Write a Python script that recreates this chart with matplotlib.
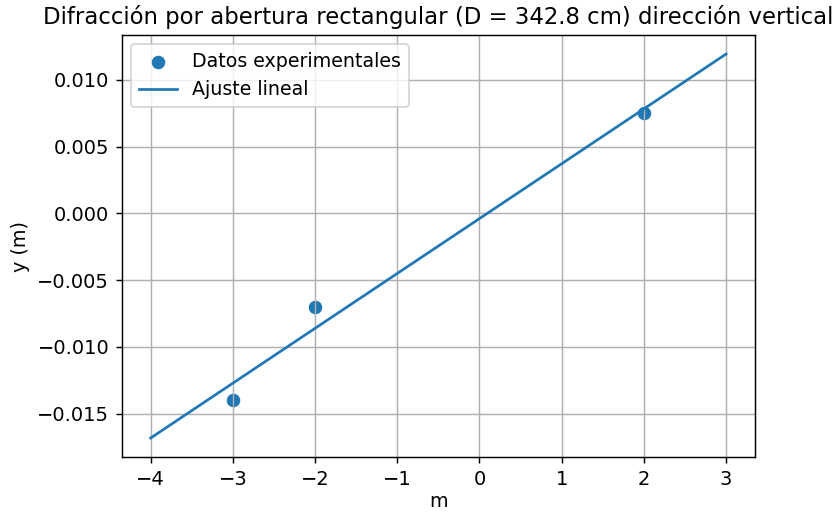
import matplotlib
matplotlib.use('Agg')
import matplotlib.pyplot as plt
import numpy as np

# Datos experimentales (orden m, posicion y en metros)
m_exp = [-3, -2, 2]
y_exp = [-0.014, -0.007, 0.0075]

# Rango del ajuste
m_min, m_max = -4, 3

# Ajuste lineal por minimos cuadrados
pendiente, intercepto = np.polyfit(m_exp, y_exp, 1)
m_fit = np.linspace(m_min, m_max, 100)
y_fit = pendiente * m_fit + intercepto

dpi = 130
fig = plt.figure(figsize=(835 / dpi, 512 / dpi), dpi=dpi)
ax = fig.add_axes([0.146, 0.107, 0.758, 0.825])
ax.scatter(m_exp, y_exp, s=42, label='Datos experimentales')
ax.plot(m_fit, y_fit, label='Ajuste lineal')
ax.set_title('Difracción por abertura rectangular (D = 342.8 cm) dirección vertical', fontsize=12.6)
ax.set_xlabel('m', fontsize=10.6, labelpad=2)
ax.set_ylabel('y (m)', fontsize=10.6)
ax.tick_params(labelsize=10.8)
ax.legend(loc='upper left', fontsize=10.5)
ax.grid(True)
fig.savefig('out.png', dpi=dpi)
